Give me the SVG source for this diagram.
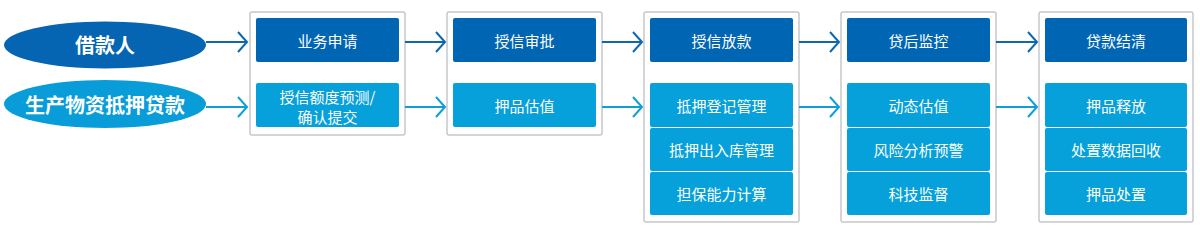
<svg xmlns="http://www.w3.org/2000/svg" width="1200" height="229" viewBox="0 0 1200 229">
<style>
.panel{fill:#fff;stroke:#c8c8c8;stroke-width:1.5}
.dk{fill:#0066B3}
.lt{fill:#06A0DA}
.t{font-family:"Noto Sans CJK SC","Noto Sans",sans-serif;font-size:15px;fill:#fff;text-anchor:middle;dominant-baseline:central}
.big{font-family:"Noto Sans CJK SC","Noto Sans",sans-serif;font-size:20px;font-weight:bold;fill:#fff;text-anchor:middle;dominant-baseline:central}
.ad{stroke:#0D67B1;stroke-width:2;fill:none}
.al{stroke:#0E9FDA;stroke-width:2;fill:none}
</style>
<rect width="1200" height="229" fill="#fff"/>
<g id="borrower">
<ellipse cx="105" cy="45" rx="101" ry="23.5" fill="#0665B2"/>
<text class="big" x="105" y="44">借款人</text>
</g>
<g id="loan">
<ellipse cx="105" cy="104" rx="101" ry="24" fill="#089DD9"/>
<text class="big" x="105" y="104">生产物资抵押贷款</text>
</g>
<g id="stage1">
<rect class="panel" x="250" y="12" width="155" height="123" rx="2"/>
<rect class="dk" x="256" y="18" width="143" height="44" rx="2"/>
<text class="t" x="327.5" y="40">业务申请</text>
<rect class="lt" x="256" y="83" width="143" height="44" rx="2"/>
<text class="t" x="327.5" y="96">授信额度预测/</text>
<text class="t" x="327.5" y="116">确认提交</text>
</g>
<g id="stage2">
<rect class="panel" x="447" y="12" width="155" height="123" rx="2"/>
<rect class="dk" x="453" y="18" width="143" height="44" rx="2"/>
<text class="t" x="524.5" y="40">授信审批</text>
<rect class="lt" x="453" y="83" width="143" height="44" rx="2"/>
<text class="t" x="524.5" y="105">押品估值</text>
</g>
<g id="stage3">
<rect class="panel" x="644" y="12" width="155" height="210" rx="2"/>
<rect class="dk" x="650" y="18" width="143" height="44" rx="2"/>
<text class="t" x="721.5" y="40">授信放款</text>
<rect class="lt" x="650" y="83" width="143" height="44" rx="2"/>
<text class="t" x="721.5" y="105">抵押登记管理</text>
<rect class="lt" x="650" y="128" width="143" height="43" rx="2"/>
<text class="t" x="721.5" y="149.5">抵押出入库管理</text>
<rect class="lt" x="650" y="172" width="143" height="43" rx="2"/>
<text class="t" x="721.5" y="193.5">担保能力计算</text>
</g>
<g id="stage4">
<rect class="panel" x="841" y="12" width="155" height="210" rx="2"/>
<rect class="dk" x="847" y="18" width="143" height="44" rx="2"/>
<text class="t" x="918.5" y="40">贷后监控</text>
<rect class="lt" x="847" y="83" width="143" height="44" rx="2"/>
<text class="t" x="918.5" y="105">动态估值</text>
<rect class="lt" x="847" y="128" width="143" height="43" rx="2"/>
<text class="t" x="918.5" y="149.5">风险分析预警</text>
<rect class="lt" x="847" y="172" width="143" height="43" rx="2"/>
<text class="t" x="918.5" y="193.5">科技监督</text>
</g>
<g id="stage5">
<rect class="panel" x="1039" y="12" width="154" height="210" rx="2"/>
<rect class="dk" x="1045" y="18" width="142" height="44" rx="2"/>
<text class="t" x="1116" y="40">贷款结清</text>
<rect class="lt" x="1045" y="83" width="142" height="44" rx="2"/>
<text class="t" x="1116" y="105">押品释放</text>
<rect class="lt" x="1045" y="128" width="142" height="43" rx="2"/>
<text class="t" x="1116" y="149.5">处置数据回收</text>
<rect class="lt" x="1045" y="172" width="142" height="43" rx="2"/>
<text class="t" x="1116" y="193.5">押品处置</text>
</g>
<g id="connectors">
<path class="ad" d="M206 42H247M238 32L247 42L238 52"/>
<path class="al" d="M206 107H247M238 97L247 107L238 117"/>
<path class="ad" d="M405 42H445M436 32L445 42L436 52"/>
<path class="al" d="M405 107H445M436 97L445 107L436 117"/>
<path class="ad" d="M602 42H642M633 32L642 42L633 52"/>
<path class="al" d="M602 107H642M633 97L642 107L633 117"/>
<path class="ad" d="M799 42H839M830 32L839 42L830 52"/>
<path class="al" d="M799 107H839M830 97L839 107L830 117"/>
<path class="ad" d="M996 42H1037M1028 32L1037 42L1028 52"/>
<path class="al" d="M996 107H1037M1028 97L1037 107L1028 117"/>
</g>
</svg>
